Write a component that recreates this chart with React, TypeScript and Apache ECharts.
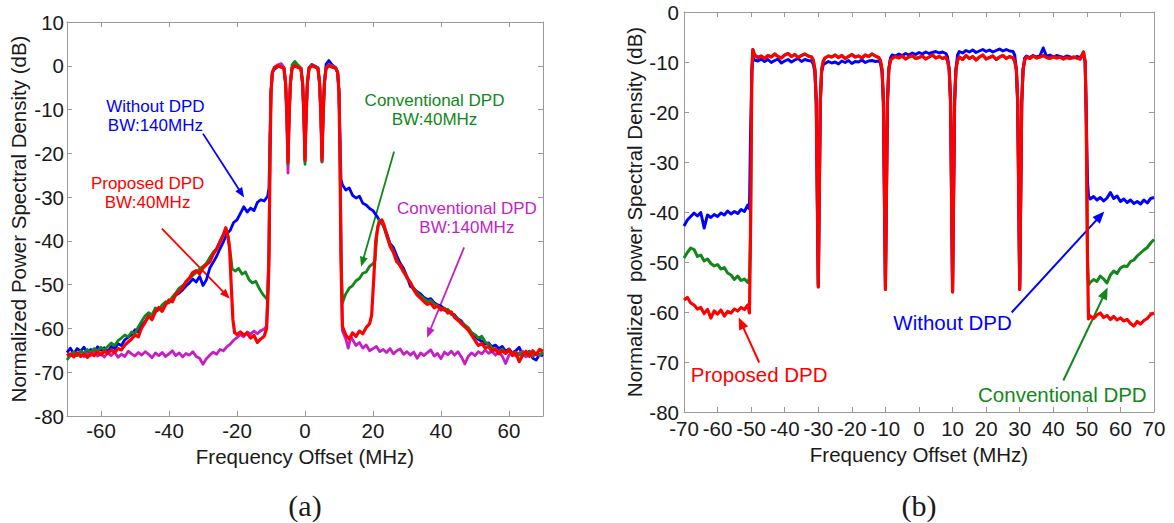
import React, { useEffect, useRef } from "react";
import * as echarts from "echarts";

const FONT = '"Liberation Sans", Arial, Helvetica, sans-serif';
const SERIF = '"Liberation Serif", "Times New Roman", serif';
const BLUE = "#0000ff";
const RED = "#ff0000";
const GREEN = "#12871a";
const MAGENTA = "#c41ec4";
const AXIS = "#9a9a9a";
const INK = "#1a1a1a";

// ---------------- (a) ----------------
const A_X_TICKS = [-60, -40, -20, 0, 20, 40, 60];

const A_BAND_F = [-10.6, -10.3, -10.0, -9.6, -9.0, -8.0, -7.0, -6.2, -5.7, -5.3, -5.0, -4.7, -4.3, -3.8, -3.0, -2.0, -1.2, -0.7, -0.3, 0, 0.3, 0.7, 1.2, 2.0, 3.0, 3.8, 4.3, 4.7, 5.0, 5.3, 5.7, 6.2, 7.0, 8.0, 9.0, 9.6, 10.0, 10.3, 10.6];

const A_WITHOUT_BAND = [-28, -16, -6, -1.5, -0.8, -0.2, 0.3, -0.4, -4, -12, -21, -12, -4, -0.5, 0.2, -0.2, -0.6, -4, -12, -21, -12, -4, -0.4, 0.3, -0.1, -0.5, -4, -12, -21, -12, -4, 0.4, 1.2, 0.2, -0.4, -1.5, -6, -16, -26];
const A_CONV140_BAND = [-42, -20, -6, -1.5, -0.4, 0.2, 0.5, -0.5, -4, -13, -24.5, -13, -4, -0.5, 0.1, -0.3, -0.5, -4, -12, -22, -12, -4, -0.4, 0.1, -0.1, -0.5, -4, -12, -22, -12, -4, -0.4, 0.3, 0, -0.4, -1.5, -6, -20, -42];
const A_CONV40_BAND = [-42, -20, -6, -1.5, -0.5, -0.1, -0.3, -0.6, -4, -12, -22.5, -12, -4, 0.2, 1.0, 0.1, -0.5, -4, -12, -22.5, -12, -4, -0.5, 0.2, -0.2, -0.5, -4, -12, -22, -12, -4, -0.5, 0.2, -0.2, -0.6, -1.5, -6, -20, -42];
const A_PROPOSED_BAND = [-45, -22, -6, -1.5, -0.4, 0, -0.3, -0.6, -4, -12, -22, -12, -4, -0.6, 0, -0.4, -0.6, -4, -12, -21.5, -12, -4, -0.6, 0, -0.3, -0.6, -4, -12, -21.5, -12, -4, -0.6, 0, -0.3, -0.5, -1.5, -6, -22, -45];

const A_WITHOUT_LEFT: number[][] = [
  [-70, -65.5], [-69, -64.5], [-68, -65.8], [-67, -64.6], [-66, -65.2], [-65, -64.3], [-64, -65.6], [-63, -64.8],
  [-62, -65.4], [-61, -64.2], [-60, -65], [-59, -64.4], [-58, -65.3], [-57, -64.1], [-56, -64.6], [-55, -63.5],
  [-54, -63.9], [-53, -62.6], [-52, -62], [-51, -61.4], [-50, -60.3], [-49, -60.9], [-48, -59.2], [-47, -58.4],
  [-46, -57.1], [-45, -57.8], [-44, -56.2], [-43, -55.6], [-42, -55.9], [-41, -54.3], [-40, -53.8], [-39, -53.1],
  [-38, -52.4], [-37, -51.9], [-36, -51.2], [-35, -50.3], [-34, -49.6], [-33, -48.7], [-32, -49.4], [-31, -48.1],
  [-30, -50.2], [-29, -48.9], [-28, -46.2], [-27, -44.9], [-26, -43.5], [-25, -41.8], [-24, -40.2], [-23, -38.4],
  [-22, -37.6], [-21, -35.8], [-20, -35.2], [-19, -33.7], [-18, -32.2], [-17, -33.4], [-16, -32.5], [-15, -33.1],
  [-14, -31.2], [-13, -30.6], [-12, -30.9], [-11, -29.8],
];
const A_WITHOUT_RIGHT: number[][] = [
  [11, -27.2], [12, -28.4], [13, -27.9], [14, -29.6], [15, -30.2], [16, -29.8], [17, -31.4], [18, -31.8],
  [19, -32.6], [20, -33.1], [21, -34.2], [22, -35.4], [23, -36.5], [24, -38.2], [25, -40.6], [26, -41.5],
  [27, -43.4], [28, -45.1], [29, -46.3], [30, -48.2], [31, -50.4], [32, -50.9], [33, -51.6], [34, -52.1],
  [35, -52.9], [36, -53.4], [37, -53.2], [38, -54.1], [39, -54.6], [40, -54.9], [41, -55.5], [42, -55.8],
  [43, -56.6], [44, -56.9], [45, -57.8], [46, -58.3], [47, -59.4], [48, -60.1], [49, -61.2], [50, -61.8],
  [51, -62.5], [52, -62.9], [53, -63.6], [54, -63.3], [55, -64.2], [56, -63.8], [57, -64.6], [58, -64.1],
  [59, -65.2], [60, -64.7], [61, -65.6], [62, -65.1], [63, -64.3], [64, -65.9], [65, -66.4], [66, -65.2],
  [67, -66.8], [68, -67.2], [69, -65.9], [70, -66.3],
];

const A_CONV140_LEFT: number[][] = [
  [-70, -65.8], [-69, -66.3], [-68, -65.5], [-67, -66.1], [-66, -65.6], [-65, -66.4], [-64, -65.7], [-63, -66.2],
  [-62, -65.4], [-61, -66.3], [-60, -65.8], [-59, -66.5], [-58, -65.6], [-57, -66.2], [-56, -65.4], [-55, -66.6],
  [-54, -65.9], [-53, -66.4], [-52, -65.2], [-51, -65.8], [-50, -66.3], [-49, -65.5], [-48, -66.1], [-47, -65.3],
  [-46, -65.9], [-45, -66.7], [-44, -65.6], [-43, -66.2], [-42, -65.5], [-41, -66.4], [-40, -65.8], [-39, -65.1],
  [-38, -66.2], [-37, -65.6], [-36, -66.5], [-35, -65.7], [-34, -66.1], [-33, -65.3], [-32, -66.4], [-31, -66.8],
  [-30, -68.2], [-29, -66.9], [-28, -66.1], [-27, -65.4], [-26, -65.9], [-25, -64.8], [-24, -65.1], [-23, -64.2],
  [-22, -63.6], [-21, -62.7], [-20, -62.1], [-19, -61.4], [-18, -61.9], [-17, -60.8], [-16, -61.3], [-15, -60.6],
  [-14, -61.2], [-13, -60.5], [-12, -60.1], [-11.3, -59.5],
];
const A_CONV140_RIGHT: number[][] = [
  [11, -60.5], [12, -62.4], [12.7, -64.5], [13.5, -61.8], [14, -62.6], [15, -63.9], [16, -63.2], [17, -64.5],
  [18, -63.8], [19, -65.1], [20, -64.6], [21, -64.1], [22, -65.3], [23, -64.8], [24, -65.5], [25, -64.6],
  [26, -65.8], [27, -65.1], [28, -64.7], [29, -65.9], [30, -65.3], [31, -66.1], [32, -65.4], [33, -66.8],
  [34, -65.6], [35, -66.2], [36, -65.5], [37, -64.9], [38, -66.3], [39, -65.7], [40, -66.9], [41, -65.4],
  [42, -66], [43, -65.2], [44, -66.1], [45, -65.3], [46, -66.5], [47, -68.1], [48, -66.4], [49, -65.6],
  [50, -66.2], [51, -65.3], [52, -65.8], [53, -64.9], [54, -65.7], [55, -65.2], [56, -66.1], [57, -65.4],
  [58, -66.3], [59, -68], [60, -66.1], [61, -65.5], [62, -66.3], [63, -65.6], [64, -65.2], [65, -66.5],
  [66, -65.8], [67, -66.4], [68, -65.7], [69, -66.2], [70, -65.4],
];

const A_CONV40_LEFT: number[][] = [
  [-70, -67.2], [-69, -66.1], [-68, -65.4], [-67, -66.2], [-66, -65.1], [-65, -65.7], [-64, -64.8], [-63, -65.5],
  [-62, -64.6], [-61, -65.2], [-60, -64.3], [-59, -64.9], [-58, -64.1], [-57, -63.3], [-56, -63.9], [-55, -62.8],
  [-54, -62.2], [-53, -61.5], [-52, -61.9], [-51, -60.8], [-50, -61.2], [-49, -59.6], [-48, -58.3], [-47, -57.1],
  [-46, -56.4], [-45, -56.9], [-44, -55.3], [-43, -55.8], [-42, -54.6], [-41, -53.9], [-40, -54.2], [-39, -52.8],
  [-38, -51.9], [-37, -50.8], [-36, -50.2], [-35, -49.5], [-34, -48.6], [-33, -47.9], [-32, -47.2], [-31, -46.4],
  [-30, -45.8], [-29, -45.1], [-28, -43.8], [-27, -42.6], [-26, -41.8], [-25, -40.1], [-24, -38.5], [-23.3, -37.2],
  [-22.6, -39], [-22, -42.5], [-21.4, -46.4], [-20.5, -46.9], [-19.5, -46.3], [-18.5, -47.6], [-17.5, -47.1], [-16.5, -48.8],
  [-15.5, -49.6], [-14.5, -49.2], [-13.5, -50.8], [-12.5, -52.1], [-11.5, -53], [-11, -53.6],
];
const A_CONV40_RIGHT: number[][] = [
  [11, -54.2], [12, -52.1], [13, -50.8], [14, -50.2], [15, -49.1], [16, -48.6], [17, -47.4], [18, -47.1],
  [19, -45.8], [20, -45.2], [20.6, -44.5], [21.2, -38], [21.8, -35.2], [22.5, -35.6], [23.2, -36.8], [24, -38.9],
  [25, -40.8], [26, -42.3], [27, -44.2], [28, -45.9], [29, -46.8], [30, -48.6], [31, -49.5], [32, -50.8],
  [33, -51.9], [34, -52.6], [35, -53.2], [36, -53.8], [37, -53.6], [38, -54.4], [39, -54.8], [40, -55.3],
  [41, -55.9], [42, -55.6], [43, -56.8], [44, -57.1], [45, -57.9], [46, -58.6], [47, -59.2], [48, -59.8],
  [49, -60.9], [50, -61.4], [51, -62.2], [52, -61.8], [53, -63.1], [54, -63.6], [55, -64.4], [56, -64.9],
  [57, -65.3], [58, -64.7], [59, -65.6], [60, -65.2], [61, -65.8], [62, -65.4], [63, -66.1], [64, -65.6],
  [65, -65.9], [66, -65.3], [67, -66.2], [68, -65.7], [69, -66], [70, -65.5],
];

const A_PROPOSED_LEFT: number[][] = [
  [-70, -66.2], [-69, -65.8], [-68, -66.5], [-67, -65.6], [-66, -66.4], [-65, -65.9], [-64, -66.6], [-63, -65.7],
  [-62, -66.2], [-61, -65.3], [-60, -66], [-59, -65.2], [-58, -65.7], [-57, -64.9], [-56, -65.5], [-55, -64.6],
  [-54, -64.9], [-53, -63.8], [-52, -63.1], [-51, -62.4], [-50, -61.5], [-49, -61.9], [-48, -59.8], [-47, -58.6],
  [-46, -57.2], [-45, -58], [-44, -56.1], [-43, -55.2], [-42, -56.1], [-41, -54.6], [-40, -53.5], [-39, -53.9],
  [-38, -52.2], [-37, -51.5], [-36, -50.7], [-35, -49.3], [-34, -48.5], [-33, -47.2], [-32, -46.8], [-31, -47.5],
  [-30, -46.2], [-29, -45.4], [-28, -44.8], [-27, -43.1], [-26, -41.9], [-25, -40.2], [-24, -38.6], [-23.3, -37],
  [-22.8, -38.5], [-22.2, -41.5], [-21.7, -50], [-21.2, -58], [-20.7, -61], [-20, -61.4], [-19, -60.8], [-18, -61.5],
  [-17, -61.1], [-16, -62.2], [-15, -61.6], [-14, -63.2], [-13, -62.4], [-12, -61.8], [-11.3, -60], [-11, -55],
];
const A_PROPOSED_RIGHT: number[][] = [
  [11, -59.5], [12, -61.5], [13, -62.4], [14, -61], [15, -61.8], [16, -60.6], [17, -61.2], [18, -59.8],
  [19, -58.9], [19.6, -57], [20.2, -49], [20.8, -40], [21.5, -36.5], [22, -35.8], [22.6, -35.2], [23.2, -36.3],
  [24, -38.5], [25, -41.2], [26, -42.6], [27, -44.8], [28, -45.5], [29, -47.1], [30, -48.3], [31, -49.6],
  [32, -51.2], [33, -52.4], [34, -53.1], [35, -53.9], [36, -54.5], [37, -54.2], [38, -55.3], [39, -54.9],
  [40, -55.8], [41, -55.4], [42, -56.5], [43, -56.2], [44, -57.5], [45, -58.1], [46, -58.9], [47, -59.6],
  [48, -60.4], [49, -61.5], [50, -62.7], [51, -63.9], [52, -63.4], [53, -64.5], [54, -64.1], [55, -65.3],
  [56, -64.6], [57, -65.8], [58, -65.1], [59, -65.7], [60, -64.8], [61, -66.2], [62, -65.5], [63, -67.6],
  [64, -66.1], [65, -65.2], [66, -66.4], [67, -65.1], [68, -66], [69, -64.8], [70, -65.2],
];

// ---------------- (b) ----------------
const B_BAND_F = [
  -50.2, -49.8, -49.5,
  -49, -48, -47, -46, -45, -44, -43, -42, -41, -40, -39, -38, -37, -36, -35, -34, -33, -32,
  -31.5, -31, -30.6, -30, -29.4, -29, -28.5,
  -28, -27, -26, -25, -24, -23, -22, -21, -20, -19, -18, -17, -16, -15, -14, -13, -12,
  -11.5, -11, -10.6, -10, -9.4, -9, -8.5,
  -8, -7, -6, -5, -4, -3, -2, -1, 0, 1, 2, 3, 4, 5, 6, 7, 8,
  8.5, 9, 9.4, 10, 10.6, 11, 11.5,
  12, 13, 14, 15, 16, 17, 18, 19, 20, 21, 22, 23, 24, 25, 26, 27, 28,
  28.5, 29, 29.4, 30, 30.6, 31, 31.5,
  32, 33, 34, 35, 36, 37, 38, 39, 40, 41, 42, 43, 44, 45, 46, 47, 48, 49,
  49.5, 49.8, 50.2,
];
const B_PROPOSED_BAND = [
  -45, -12, -7.5,
  -8.6, -9.1, -8.8, -9.3, -8.7, -9.0, -8.4, -8.9, -9.2, -8.6, -8.3, -8.9, -8.5, -9.1, -8.7, -8.4, -8.8, -9.0,
  -9.6, -11.5, -18, -55, -18, -11.5, -9.8,
  -9.2, -8.8, -9.0, -8.6, -9.1, -8.7, -9.3, -8.9, -8.5, -9.0, -8.8, -9.2, -8.6, -8.9, -8.4, -8.8, -9.1,
  -9.7, -11.5, -18, -55.5, -18, -11.5, -9.6,
  -9.3, -8.9, -9.2, -8.8, -9.4, -9.0, -8.7, -9.3, -9.1, -8.8, -9.4, -9.0, -8.6, -9.2, -8.9, -9.3, -9.0,
  -9.8, -11.5, -18, -56, -18, -11.5, -9.7,
  -9.0, -9.5, -8.7, -9.3, -8.9, -9.6, -9.0, -8.6, -9.4, -9.1, -8.8, -9.5, -9.0, -8.7, -9.3, -8.9, -9.2,
  -9.8, -11.5, -18, -55.5, -18, -11.5, -9.6,
  -9.0, -9.3, -8.8, -9.2, -9.0, -8.7, -9.1, -9.3, -8.9, -9.2, -9.0, -9.4, -9.1, -9.3, -9.0, -9.2, -9.4, -8.0,
  -10, -20, -50,
];
const B_WITHOUT_BAND = [
  -25, -12, -9,
  -9.6, -9.8, -9.4, -9.9, -9.5, -10.1, -9.7, -9.4, -10.2, -9.8, -9.5, -10.0, -9.6, -9.3, -9.9, -9.5, -9.7, -9.8,
  -10.4, -12, -18, -54.5, -18, -12, -10.5,
  -10.3, -9.9, -10.2, -10.0, -10.4, -9.8, -10.1, -9.7, -10.3, -9.9, -10.0, -9.6, -10.1, -9.8, -9.7, -9.9, -9.8,
  -10.2, -12, -18, -55, -18, -11.5, -9.2,
  -8.6, -8.8, -8.4, -8.7, -8.3, -8.6, -8.2, -8.5, -8.1, -8.4, -8.0, -8.3, -8.1, -7.9, -8.2, -8.0, -8.3,
  -9, -11.5, -18, -55.5, -18, -11.5, -8.6,
  -7.9, -8.2, -7.7, -8.0, -7.6, -8.1, -7.8, -7.5, -7.9, -7.6, -8.0, -7.7, -7.4, -7.8, -7.5, -7.8, -7.9,
  -8.6, -11.5, -18, -55, -18, -11.5, -9.2,
  -8.8, -9.1, -8.7, -9.0, -8.8, -7.2, -8.9, -8.6, -9.0, -8.7, -8.9, -9.1, -8.8, -9.0, -9.2, -8.9, -9.1, -8.6,
  -10, -20, -34,
];
// the conventional-DPD trace lies under the proposed one inside the band
const B_CONV_BAND = B_PROPOSED_BAND;

const B_WITHOUT_LEFT: number[][] = [
  [-70, -42.8], [-69, -41.6], [-68, -40.9], [-67, -40.2], [-66, -40.8], [-65, -40.1], [-64, -43.2], [-63, -40.6],
  [-62, -41.1], [-61, -40.5], [-60, -40.9], [-59, -40.2], [-58, -40.6], [-57, -39.8], [-56, -40.4], [-55, -39.9],
  [-54, -40.3], [-53, -39.5], [-52, -39.9], [-51, -38.6], [-50.5, -39.4],
];
const B_WITHOUT_RIGHT: number[][] = [
  [50.5, -36.8], [51, -37.4], [52, -36.9], [53, -37.6], [54, -37.1], [55, -37.8], [56, -37.2], [57, -36.1],
  [58, -37.3], [59, -36.8], [60, -37.9], [61, -37.4], [62, -38.1], [63, -37.6], [64, -38.3], [65, -37.9],
  [66, -38.4], [67, -37.6], [68, -38.2], [69, -37.3], [70, -37.1],
];
const B_CONV_LEFT: number[][] = [
  [-70, -49.2], [-69, -48.1], [-68, -47.2], [-67, -47.5], [-66, -48.9], [-65, -48.6], [-64, -49.8], [-63, -49.4],
  [-62, -50.3], [-61, -50.8], [-60, -50.5], [-59, -51.4], [-58, -51.1], [-57, -52.2], [-56, -52.6], [-55, -53.5],
  [-54, -52.8], [-53, -53.7], [-52, -53.4], [-51, -54.1], [-50.5, -53.2],
];
const B_CONV_RIGHT: number[][] = [
  [50.5, -54.6], [51, -54.1], [52, -53.5], [53, -53.9], [54, -52.8], [55, -53.4], [56, -54.2], [57, -52.6],
  [58, -51.8], [59, -52.3], [60, -51.2], [61, -50.8], [62, -50.9], [63, -49.9], [64, -49.6], [65, -48.8],
  [66, -48.2], [67, -47.6], [68, -47.1], [69, -46.2], [70, -45.5],
];
const B_PROPOSED_LEFT: number[][] = [
  [-70, -57.6], [-69, -57.1], [-68, -58.2], [-67, -58.6], [-66, -59.4], [-65, -59.1], [-64, -60.3], [-63, -59.5],
  [-62, -61.2], [-61, -59.8], [-60, -60.4], [-59, -59.6], [-58, -60.8], [-57, -59.9], [-56, -60.2], [-55, -59.4],
  [-54, -59.8], [-53, -59.1], [-52, -59.5], [-51, -58.6], [-50.5, -60.2],
];
const B_PROPOSED_RIGHT: number[][] = [
  [50.5, -61.4], [51, -60.8], [52, -61.3], [53, -60.6], [54, -60.2], [55, -61.1], [56, -60.7], [57, -61.5],
  [58, -60.9], [59, -61.6], [60, -61.2], [61, -61.8], [62, -61.5], [63, -62.3], [64, -62.8], [65, -61.9],
  [66, -62.4], [67, -61.7], [68, -61.3], [69, -60.5], [70, -60.2],
];

// annotations (data coordinates of the panel they sit in)
const A_NOTES = [
  { text: "Without DPD\nBW:140MHz", color: BLUE, at: [-44, -11.45], from: [-30, -15.5], to: [-17.9, -30.1] },
  { text: "Proposed DPD\nBW:40MHz", color: RED, at: [-46.3, -29.05], from: [-42.1, -37.2], to: [-22.1, -53.2] },
  { text: "Conventional DPD\nBW:40MHz", color: GREEN, at: [38.1, -10.1], from: [26.2, -19.6], to: [16.5, -45.9] },
  { text: "Conventional DPD\nBW:140MHz", color: MAGENTA, at: [47.6, -34.8], from: [46.8, -41.5], to: [35.9, -62.1] },
];
const B_NOTES = [
  { text: "Proposed DPD", color: RED, at: [-47.6, -72.5], from: [-47.6, -70.1], to: [-53.7, -61.1] },
  { text: "Without DPD", color: BLUE, at: [10, -62.1], from: [27.6, -60.1], to: [55.2, -39.9] },
  { text: "Conventional DPD", color: GREEN, at: [42.7, -76.5], from: [43, -73.7], to: [56.2, -55.1] },
];

function joinTrace(left: number[][], bandF: number[], band: number[], right: number[][]) {
  return [...left, ...bandF.map((f, i) => [f, band[i]]), ...right];
}

const TICK_SIZE = 20.5;
const TITLE_SIZE = 20.5;

function frameAxis(gridIndex: number, position: string, min: number, max: number, interval: number | undefined, ticks: number[] | undefined, main: boolean, name: string, nameGap: number, isY: boolean, labelMargin: number) {
  const ax: any = {
    type: "value",
    gridIndex,
    position,
    min,
    max,
    axisLine: { show: true, onZero: false, lineStyle: { color: AXIS, width: 1 } },
    axisTick: { show: true, inside: true, length: 5, lineStyle: { color: AXIS, width: 1 } },
    axisLabel: {
      show: main,
      color: INK,
      fontSize: TICK_SIZE,
      fontFamily: FONT,
      margin: labelMargin,
      showMinLabel: true,
      showMaxLabel: true,
    },
    splitLine: { show: false },
  };
  if (interval !== undefined) ax.interval = interval;
  if (ticks) {
    ax.axisTick.customValues = ticks;
    ax.axisLabel.customValues = ticks;
  }
  if (main) {
    ax.name = name;
    ax.nameLocation = "middle";
    ax.nameGap = nameGap;
    ax.nameTextStyle = { fontSize: TITLE_SIZE, color: INK, fontFamily: FONT };
    if (isY) ax.nameRotate = 90;
  }
  return ax;
}

function lineSeries(name: string, xi: number, yi: number, data: number[][], color: string, width: number) {
  return {
    type: "line",
    name,
    xAxisIndex: xi,
    yAxisIndex: yi,
    data,
    showSymbol: false,
    symbol: "none",
    silent: true,
    lineStyle: { color, width, join: "round" },
    itemStyle: { color },
  };
}

export default function App() {
  const ref = useRef<HTMLDivElement>(null);
  useEffect(() => {
    document.body.style.margin = "0";
    if (!ref.current) return;
    const chart = echarts.init(ref.current, undefined, { renderer: "svg" });
    const option: any = {
      animation: false,
      backgroundColor: "#ffffff",
      grid: [
        { left: 67, top: 22, width: 476, height: 394 },
        { left: 684, top: 12, width: 470, height: 400 },
      ],
      xAxis: [
        frameAxis(0, "bottom", -70, 70, undefined, A_X_TICKS, true, "Frequency Offset (MHz)", 24, false, 4),
        frameAxis(0, "top", -70, 70, undefined, A_X_TICKS, false, "", 0, false, 4),
        frameAxis(1, "bottom", -70, 70, 10, undefined, true, "Frequency Offset (MHz)", 27, false, 6),
        frameAxis(1, "top", -70, 70, 10, undefined, false, "", 0, false, 6),
      ],
      yAxis: [
        frameAxis(0, "left", -80, 10, 10, undefined, true, "Normalized Power Spectral Density (dB)", 38, true, 3),
        frameAxis(0, "right", -80, 10, 10, undefined, false, "", 0, true, 3),
        frameAxis(1, "left", -80, 0, 10, undefined, true, "Normalized  power Spectral Density (dB)", 39, true, 5),
        frameAxis(1, "right", -80, 0, 10, undefined, false, "", 0, true, 5),
      ],
      series: [
        lineSeries("Without DPD (a)", 0, 0, joinTrace(A_WITHOUT_LEFT, A_BAND_F, A_WITHOUT_BAND, A_WITHOUT_RIGHT), BLUE, 2.8),
        lineSeries("Conventional DPD BW:140MHz", 0, 0, joinTrace(A_CONV140_LEFT, A_BAND_F, A_CONV140_BAND, A_CONV140_RIGHT), MAGENTA, 2.8),
        lineSeries("Conventional DPD BW:40MHz", 0, 0, joinTrace(A_CONV40_LEFT, A_BAND_F, A_CONV40_BAND, A_CONV40_RIGHT), GREEN, 2.8),
        lineSeries("Proposed DPD BW:40MHz", 0, 0, joinTrace(A_PROPOSED_LEFT, A_BAND_F, A_PROPOSED_BAND, A_PROPOSED_RIGHT), RED, 3.2),
        lineSeries("Conventional DPD (b)", 2, 2, joinTrace(B_CONV_LEFT, B_BAND_F, B_CONV_BAND, B_CONV_RIGHT), GREEN, 3),
        lineSeries("Without DPD (b)", 2, 2, joinTrace(B_WITHOUT_LEFT, B_BAND_F, B_WITHOUT_BAND, B_WITHOUT_RIGHT), BLUE, 3),
        lineSeries("Proposed DPD (b)", 2, 2, joinTrace(B_PROPOSED_LEFT, B_BAND_F, B_PROPOSED_BAND, B_PROPOSED_RIGHT), RED, 3.2),
      ],
    };
    chart.setOption(option);

    const graphics: any[] = [];
    const addNotes = (notes: any[], gridIndex: number, fontSize: number, lineHeight: number, lw: number, headLen: number, headW: number) => {
      notes.forEach((n) => {
        const p = chart.convertToPixel({ gridIndex } as any, n.at) as number[];
        const a = chart.convertToPixel({ gridIndex } as any, n.from) as number[];
        const b = chart.convertToPixel({ gridIndex } as any, n.to) as number[];
        const dx = b[0] - a[0];
        const dy = b[1] - a[1];
        const len = Math.sqrt(dx * dx + dy * dy) || 1;
        const ux = dx / len;
        const uy = dy / len;
        const bx = b[0] - ux * headLen;
        const by = b[1] - uy * headLen;
        graphics.push({
          type: "line",
          silent: true,
          shape: { x1: a[0], y1: a[1], x2: bx + ux * 2, y2: by + uy * 2 },
          style: { stroke: n.color, lineWidth: lw },
        });
        graphics.push({
          type: "polygon",
          silent: true,
          shape: { points: [[b[0], b[1]], [bx - uy * headW, by + ux * headW], [bx + uy * headW, by - ux * headW]] },
          style: { fill: n.color },
        });
        graphics.push({
          type: "text",
          silent: true,
          x: p[0],
          y: p[1],
          style: {
            text: n.text,
            fill: n.color,
            fontSize,
            fontFamily: FONT,
            align: "center",
            verticalAlign: "middle",
            lineHeight,
          },
        });
      });
    };
    addNotes(A_NOTES, 0, 17, 19, 1.8, 10, 4);
    addNotes(B_NOTES, 1, 20.5, 22, 2, 12, 5);
    graphics.push({
      type: "text",
      silent: true,
      x: 305,
      y: 505,
      style: { text: "(a)", fill: INK, fontSize: 30, fontFamily: SERIF, align: "center", verticalAlign: "middle" },
    });
    graphics.push({
      type: "text",
      silent: true,
      x: 919,
      y: 505,
      style: { text: "(b)", fill: INK, fontSize: 30, fontFamily: SERIF, align: "center", verticalAlign: "middle" },
    });
    chart.setOption({ graphic: graphics });

    return () => {
      chart.dispose();
    };
  }, []);
  return <div ref={ref} style={{ position: "absolute", left: 0, top: 0, width: 1174, height: 523 }} />;
}
